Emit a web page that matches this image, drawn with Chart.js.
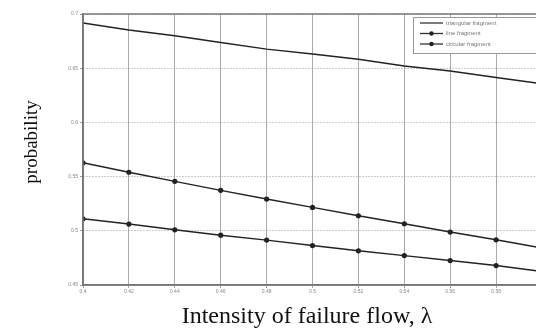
<!DOCTYPE html>
<html>
<head>
<meta charset="utf-8">
<script src="https://cdn.jsdelivr.net/npm/chart.js@4.4.1/dist/chart.umd.min.js"></script>
<style>
  html, body { margin: 0; padding: 0; background: #fff; overflow: hidden; }
  #wrap { width: 536px; height: 334px; overflow: hidden; }
</style>
</head>
<body>
<div id="wrap"><canvas id="chart" width="546" height="334"></canvas></div>
<script>
// x values (failure flow intensity)
const lambdas = [0.40, 0.42, 0.44, 0.46, 0.48, 0.50, 0.52, 0.54, 0.56, 0.58, 0.60];
const seriesNames = ['triangular fragment', 'line fragment', 'circular fragment'];
const triangular = [0.6917, 0.6852, 0.6799, 0.6738, 0.6676, 0.6630, 0.6583, 0.6521, 0.6475, 0.6414, 0.6357];
const lineFrag   = [0.5627, 0.5540, 0.5456, 0.5373, 0.5293, 0.5216, 0.5139, 0.5065, 0.4988, 0.4917, 0.4842];
const circular   = [0.5111, 0.5062, 0.5009, 0.4960, 0.4914, 0.4864, 0.4815, 0.4771, 0.4725, 0.4679, 0.4625];
const yTicks = [0.45, 0.5, 0.55, 0.6, 0.65, 0.7];

const xTitle = 'Intensity of failure flow, \u03bb';
const yTitle = 'probability';

function pts(vals) {
    return vals.map((v, i) => ({ x: lambdas[i], y: v }));
}

// box, legend and axis titles drawn like the matlab figure
const figureDecor = {
    id: 'figureDecor',
    afterDraw(chart) {
        const { ctx, chartArea } = chart;
        ctx.save();
        // frame
        ctx.strokeStyle = '#777';
        ctx.lineWidth = 1.5;
        ctx.setLineDash([]);
        ctx.strokeRect(chartArea.left, chartArea.top, chartArea.right - chartArea.left, chartArea.bottom - chartArea.top);

        // legend
        const lx = 413, ly = 17;
        ctx.fillStyle = '#fff';
        ctx.fillRect(lx, ly, 140, 36);
        ctx.strokeStyle = '#999';
        ctx.lineWidth = 1;
        ctx.strokeRect(lx + 0.5, ly + 0.5, 140, 36);
        ctx.font = '6px "Liberation Sans"';
        ctx.textBaseline = 'middle';
        chart.data.datasets.forEach((ds, i) => {
            const y = ly + 6 + i * 10.5;
            ctx.strokeStyle = '#333';
            ctx.lineWidth = 1.3;
            ctx.beginPath();
            ctx.moveTo(lx + 7, y);
            ctx.lineTo(lx + 30, y);
            ctx.stroke();
            if (ds.pointRadius > 0) {
                ctx.fillStyle = '#222';
                ctx.beginPath();
                ctx.arc(lx + 18.5, y, 2.2, 0, Math.PI * 2);
                ctx.fill();
            }
            ctx.fillStyle = '#777';
            ctx.fillText(ds.label, lx + 33, y);
        });

        // axis titles
        ctx.fillStyle = '#111';
        ctx.font = '24px "Liberation Serif"';
        ctx.textAlign = 'center';
        ctx.textBaseline = 'alphabetic';
        ctx.fillText(xTitle, 307, 323);
        ctx.translate(37, 142);
        ctx.rotate(-Math.PI / 2);
        ctx.font = '19px "Liberation Serif"';
        ctx.fillText(yTitle, 0, 0);
        ctx.restore();
    }
};

const mkSet = (label, vals, markers) => ({
    label: label,
    data: pts(vals),
    borderColor: '#222',
    backgroundColor: '#222',
    borderWidth: 1.5,
    pointRadius: markers ? 2.6 : 0,
    pointBorderWidth: 0,
    tension: 0
});

new Chart(document.getElementById('chart'), {
    type: 'line',
    data: {
        datasets: [
            mkSet(seriesNames[0], triangular, false),
            mkSet(seriesNames[1], lineFrag, true),
            mkSet(seriesNames[2], circular, true)
        ]
    },
    options: {
        responsive: false,
        animation: false,
        layout: { padding: { top: 14, right: 3, left: 0, bottom: 0 } },
        plugins: { legend: { display: false }, tooltip: { enabled: false } },
        scales: {
            x: {
                type: 'linear',
                min: 0.4,
                max: 0.6,
                afterBuildTicks: (s) => { s.ticks = lambdas.map(v => ({ value: v })); },
                afterFit: (s) => { s.height = 49; },
                grid: { color: '#aaa', lineWidth: 1, tickLength: 3 },
                border: { color: '#777', width: 1.5 },
                ticks: {
                    color: '#888',
                    font: { size: 5, family: 'Liberation Sans' },
                    padding: 1,
                    maxRotation: 0,
                    autoSkip: false,
                    callback: (v) => (v >= 0.599 ? '' : String(Math.round(v * 100) / 100))
                }
            },
            y: {
                min: 0.45,
                max: 0.7,
                afterBuildTicks: (s) => { s.ticks = yTicks.map(v => ({ value: v })); },
                afterFit: (s) => { s.width = 83; },
                grid: { color: '#999', lineWidth: 1, tickLength: 3 },
                border: { color: '#777', width: 1.5, dash: [1, 2] },
                ticks: {
                    color: '#888',
                    font: { size: 5, family: 'Liberation Sans' },
                    padding: 2,
                    callback: (v) => String(v)
                }
            }
        }
    },
    plugins: [figureDecor]
});
</script>
</body>
</html>
